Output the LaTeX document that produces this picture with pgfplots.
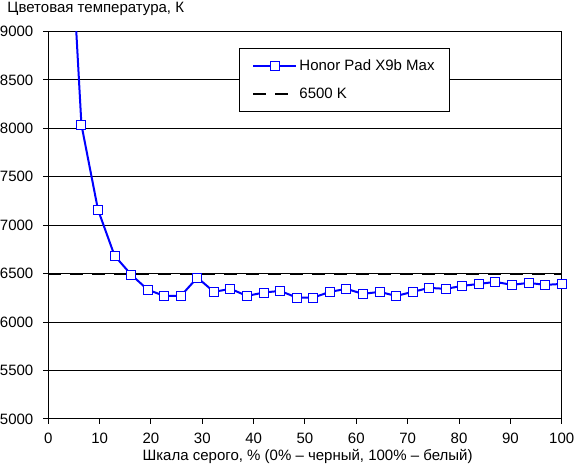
\documentclass[border=0pt]{standalone}
\usepackage{fontspec}
\setmainfont{Liberation Sans}
\usepackage{pgfplots}
\pgfplotsset{compat=1.18}
\begin{document}
\fontsize{15pt}{17pt}\selectfont
\begin{tikzpicture}
\path[use as bounding box] (-48.3pt,-50pt) rectangle (525.7pt,419pt);
\begin{axis}[
  at={(0pt,0pt)}, anchor=south west,
  scale only axis, width=513.4pt, height=387.6pt,
  xmin=0, xmax=100, ymin=5000, ymax=9000,
  xtick={0,10,...,100}, ytick={5000,5500,...,9000},
  ymajorgrids, major grid style={black, line width=1pt},
  axis line style={black, line width=1pt},
  tick align=outside, xtick pos=bottom, ytick pos=left,
  major tick length=5pt, tick style={black, line width=1pt},
  scaled y ticks=false,
  /pgf/number format/assume math mode=true,
  /pgf/number format/set thousands separator={},
  font=\fontsize{15pt}{17pt}\selectfont,
  yticklabel style={anchor=east, inner sep=0pt, xshift=-9.8pt},
  xticklabel style={anchor=north, inner sep=0pt, yshift=-9pt},
  xlabel={Шкала серого, \% (0\% – черный, 100\% – белый)},
  xlabel style={at={(axis description cs:0.505,0)}, anchor=base, yshift=-42pt, inner sep=0pt},
  reverse legend,
  legend image code/.code={\draw[mark repeat=2,mark phase=2,#1] plot coordinates {(0pt,0pt) (21.5pt,0pt) (43pt,0pt)};},
  legend style={at={(axis description cs:0.3714,0.9572)}, anchor=north west,
    draw=black, line width=1pt, fill=white, inner xsep=13pt, inner ysep=9pt,
    row sep=11pt, cells={anchor=west}, nodes={inner sep=2pt}},
]
\addplot[black, line width=2pt, dash pattern=on 13pt off 9pt] coordinates {(0,6500) (100,6500)};
\addlegendentry{6500 K}
\addplot[blue, line width=2pt, mark=square*, mark size=4.5pt,
  mark options={solid, fill=white, draw=blue, line width=1pt}] coordinates {
(3.2258,11140) (6.4516,8037) (9.6774,7160) (12.9032,6686) (16.1290,6490)
(19.3548,6335) (22.5806,6270) (25.8065,6270) (29.0323,6459) (32.2581,6312)
(35.4839,6343) (38.7097,6270) (41.9355,6305) (45.1613,6322) (48.3871,6253)
(51.6129,6253) (54.8387,6312) (58.0645,6343) (61.2903,6291) (64.5161,6312)
(67.7419,6270) (70.9677,6312) (74.1935,6353) (77.4194,6343) (80.6452,6374)
(83.8710,6394) (87.0968,6415) (90.3226,6384) (93.5484,6405) (96.7742,6384)
(100,6394)};
\addlegendentry{Honor Pad X9b Max\hspace{7pt}}
\end{axis}
\node[anchor=base west, inner sep=0pt] at (-41pt,406pt) {Цветовая температура, К};
\end{tikzpicture}
\end{document}
